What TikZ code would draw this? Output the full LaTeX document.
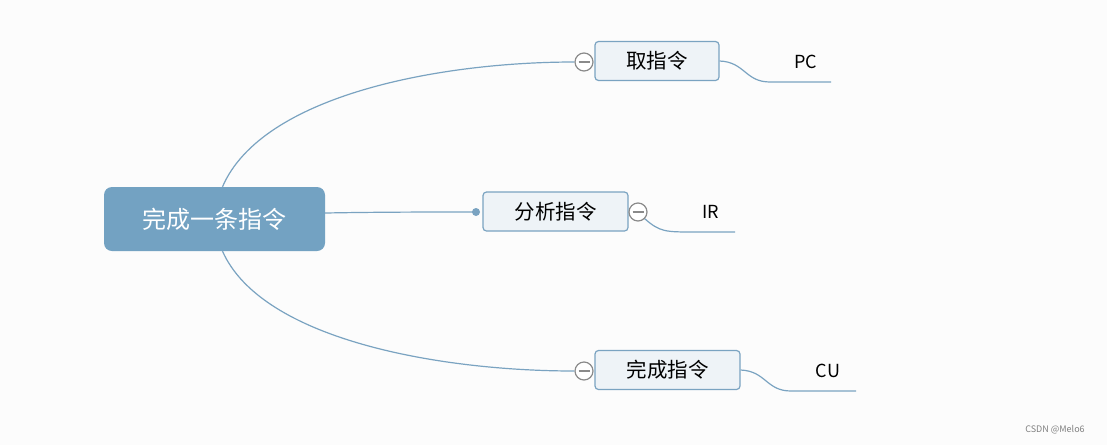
\documentclass[tikz,border=0pt]{standalone}
\usepackage{fontspec}
\setmainfont{Noto Sans CJK SC}
\usepackage{xcolor}
\definecolor{bgcol}{HTML}{FCFCFC}
\definecolor{rootfill}{HTML}{73A2C2}
\definecolor{subfill}{HTML}{EEF3F7}
\definecolor{subline}{HTML}{7AA3C1}
\definecolor{knob}{HTML}{8A8A8A}
\usetikzlibrary{positioning}

\tikzset{
  rootbox/.style={fill=rootfill,rounded corners=8pt,minimum width=221pt,minimum height=64pt,
    text=white,font=\fontsize{24}{26}\selectfont,inner sep=0pt},
  subbox/.style={draw=subline,line width=1.2pt,fill=subfill,rounded corners=3.5pt,minimum height=39pt,
    font=\fontsize{20.5}{23}\selectfont,inner sep=0pt},
  leaf/.style={font=\fontsize{18}{20}\selectfont,inner sep=0pt},
  link/.style={draw=subline,line width=1.2pt},
  toggle/.style={circle,draw=knob,line width=1.2pt,fill=white,minimum size=18pt,inner sep=0pt,
    path picture={\draw[knob,line width=1.2pt] ([xshift=-5.5pt]path picture bounding box.center) -- ([xshift=5.5pt]path picture bounding box.center);}}
}

\begin{document}
\begin{tikzpicture}[x=1pt,y=-1pt]
\useasboundingbox[fill=bgcol] (0,0) rectangle (1107,445);

% central topic
\node[rootbox] (root) at (214.5,219) {完成一条指令};

% main branches
\node[subbox,minimum width=124pt] (fetch) at (657,61) {取指令};
\node[subbox,minimum width=145pt] (decode) at (555.5,211.5) {分析指令};
\node[subbox,minimum width=145pt] (finish) at (667.5,370) {完成指令};

\node[toggle] (tfetch) at (584,62) {};
\node[toggle] (tdecode) at (638,212) {};
\node[toggle] (tfinish) at (584,371) {};
\node[circle,fill=subline,minimum size=8pt,inner sep=0pt] (ddot) at (476,212) {};

% leaves
\node[leaf] (pc) at (806,62) {PC};
\node[leaf] (ir) at (711,212) {IR};
\node[leaf] (cu) at (828,371) {CU};
\coordinate (pcend) at (831,82);
\coordinate (irend) at (735,232);
\coordinate (cuend) at (856,391);

% connectors from the centre
\draw[link] (root.north) ++(8,0) coordinate (rtop)
  (rtop) .. controls (262,95) and (440,62) .. (tfetch.west);
\draw[link] (root.south) ++(8,0) coordinate (rbot)
  (rbot) .. controls (262,340) and (440,371) .. (tfinish.west);
\draw[link] (root.east) ++(0,-6) coordinate (rmid)
  (rmid) .. controls (380,212) and (430,212) .. (ddot.center);

% connectors to the leaves
\draw[link] (fetch.east) .. controls (745,62) and (745,82) .. (770,82) -- (pcend);
\draw[link] (tdecode.south east) .. controls (660,232) and (665,232) .. (695,232) -- (irend);
\draw[link] (finish.east) .. controls (766,371) and (766,391) .. (791,391) -- (cuend);

% watermark
\node[font=\fontsize{9}{10}\selectfont,text=gray] (mark) at (1055,430) {CSDN @Melo6};
\end{tikzpicture}
\end{document}
